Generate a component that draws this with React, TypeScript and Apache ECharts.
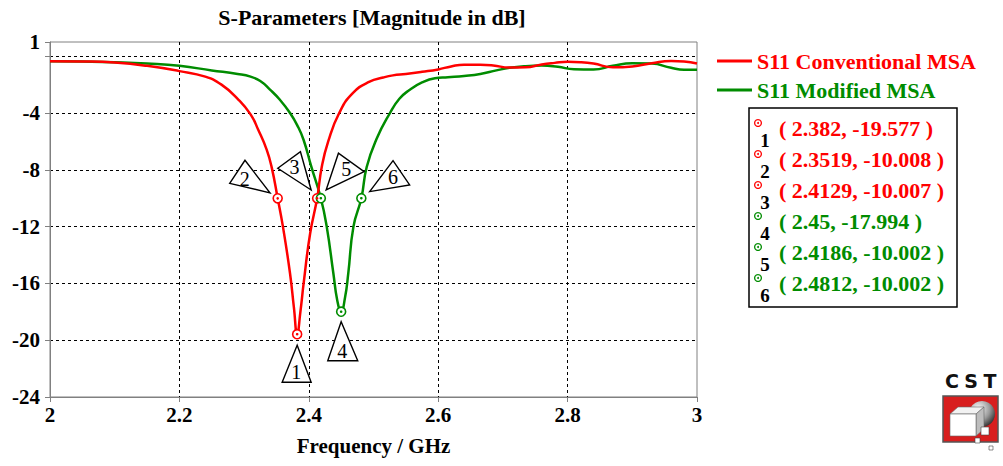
import React, { useEffect, useRef } from 'react';
import * as echarts from 'echarts';

// ---- Data -----------------------------------------------------------------
const RED = '#ff0000';
const GREEN = '#008c00';
const SERIF = '"Liberation Serif", "Times New Roman", serif';

const seriesNames = ['S11 Conventional MSA', 'S11 Modified MSA'];

// S11 of the conventional patch (frequency in GHz, magnitude in dB)
const redFreq = [
  2.0, 2.05, 2.1, 2.15, 2.2, 2.24, 2.265, 2.29, 2.31, 2.322, 2.335, 2.343, 2.3519, 2.36, 2.371,
  2.377, 2.382, 2.387, 2.392, 2.402, 2.4129, 2.42, 2.43, 2.447, 2.468, 2.494, 2.515, 2.53, 2.55,
  2.575, 2.6, 2.62, 2.64, 2.665, 2.685, 2.71, 2.735, 2.76, 2.78, 2.8, 2.82, 2.84, 2.87, 2.9, 2.93,
  2.96, 2.98, 3.0,
];
const redDb = [
  -0.35, -0.37, -0.45, -0.68, -1.05, -1.44, -2.0, -3.0, -4.1, -5.2, -6.6, -7.9, -10.008, -12.0, -15.3,
  -17.7, -19.577, -18.0, -16.0, -12.5, -10.007, -7.8, -6.0, -4.0, -2.6, -1.79, -1.5, -1.35, -1.25,
  -1.1, -0.93, -0.72, -0.6, -0.6, -0.65, -0.8, -0.78, -0.58, -0.47, -0.39, -0.42, -0.52, -0.78, -0.72,
  -0.5, -0.34, -0.38, -0.52,
];

// S11 of the modified patch
const greenFreq = [
  2.0, 2.05, 2.1, 2.15, 2.2, 2.25, 2.29, 2.31, 2.325, 2.34, 2.355, 2.371, 2.382, 2.392, 2.404,
  2.4186, 2.4277, 2.438, 2.444, 2.45, 2.456, 2.461, 2.469, 2.4812, 2.4895, 2.505, 2.5255, 2.54,
  2.555, 2.575, 2.595, 2.615, 2.64, 2.665, 2.69, 2.71, 2.735, 2.76, 2.785, 2.81, 2.84, 2.87, 2.9,
  2.93, 2.96, 2.98, 3.0,
];
const greenDb = [
  -0.35, -0.38, -0.43, -0.52, -0.68, -1.0, -1.25, -1.44, -1.75, -2.35, -3.05, -4.0, -4.85, -5.9, -7.8,
  -10.002, -12.0, -15.3, -17.2, -17.994, -17.0, -15.3, -12.0, -10.002, -7.8, -5.8, -4.0, -3.0,
  -2.4, -1.85, -1.55, -1.48, -1.39, -1.25, -1.0, -0.82, -0.7, -0.66, -0.75, -0.92, -0.94, -0.68, -0.5,
  -0.52, -0.82, -0.95, -0.95,
];

// Curve markers
const markerIds = ['1', '2', '3', '4', '5', '6'];
const markerFreq = [2.382, 2.3519, 2.4129, 2.45, 2.4186, 2.4812];
const markerDb = [-19.577, -10.008, -10.007, -17.994, -10.002, -10.002];
const markerCurve = [0, 0, 0, 1, 1, 1];

// ---- Layout of the marker call-outs (offsets from the marker, in px) ------
const calloutShapes = [
  { pts: [[0, 11], [-15, 48], [14, 48]], label: [-1, 38] },
  { pts: [[-48, -15], [-32.7, -38], [-7.7, -5.5]], label: [-33, -19] },
  { pts: [[-39.4, -30], [-16.7, -46.6], [-6, -8.3]], label: [-22.7, -31] },
  { pts: [[0, 10], [-13.4, 49], [16.6, 49]], label: [1, 39] },
  { pts: [[5.3, -8.3], [17.6, -45], [43.3, -26.6]], label: [25.3, -29] },
  { pts: [[8.3, -6.6], [31.7, -37.6], [48.3, -13.3]], label: [31.7, -21] },
];

const curveColors = [RED, GREEN];

function pairs(xs: number[], ys: number[]) {
  return xs.map((x, i) => [x, ys[i]]);
}

function textEl(
  x: number,
  y: number,
  text: string,
  size: number,
  color: string,
  bold: boolean,
  align = 'center',
  family = SERIF,
) {
  return {
    type: 'text',
    x,
    y,
    z: 20,
    silent: true,
    style: {
      text,
      fill: color,
      fontFamily: family,
      fontSize: size,
      fontWeight: bold ? 'bold' : 'normal',
      align,
      verticalAlign: 'middle',
      textAlign: align,
      textVerticalAlign: 'middle',
    },
  };
}

function cstLogo() {
  const els: any[] = [];
  const letters = ['C', 'S', 'T'];
  const lx = [952, 971, 990];
  letters.forEach((l, i) => {
    els.push(textEl(lx[i], 381, l, 19, '#111', true, 'center', '"DejaVu Sans", Arial, sans-serif'));
  });
  els.push({
    type: 'rect',
    shape: { x: 943, y: 396, width: 55, height: 46 },
    style: { fill: '#d81e1e', stroke: '#555', lineWidth: 1.5 },
  });
  els.push({
    type: 'circle',
    shape: { cx: 982, cy: 414, r: 13 },
    style: {
      fill: new echarts.graphic.RadialGradient(0.35, 0.3, 0.75, [
        { offset: 0, color: '#ffffff' },
        { offset: 0.6, color: '#9a9a9a' },
        { offset: 1, color: '#333333' },
      ]),
    },
  });
  // large cube
  els.push({ type: 'polygon', shape: { points: [[950, 414], [958, 407], [984, 407], [976, 414]] }, style: { fill: '#f2f2f2', stroke: '#666', lineWidth: 0.6 } });
  els.push({ type: 'polygon', shape: { points: [[976, 414], [984, 407], [984, 429], [976, 436]] }, style: { fill: '#bdbdbd', stroke: '#666', lineWidth: 0.6 } });
  els.push({ type: 'rect', shape: { x: 950, y: 414, width: 26, height: 22 }, style: { fill: '#ffffff', stroke: '#666', lineWidth: 0.6 } });
  // small cubes
  els.push({ type: 'rect', shape: { x: 981, y: 427, width: 8, height: 8 }, style: { fill: '#ffffff', stroke: '#444', lineWidth: 0.6 } });
  els.push({ type: 'rect', shape: { x: 975, y: 438, width: 5, height: 5 }, style: { fill: '#ffffff', stroke: '#444', lineWidth: 0.6 } });
  els.push({ type: 'rect', shape: { x: 989, y: 446, width: 4, height: 4 }, style: { fill: '#ffffff', stroke: '#444', lineWidth: 0.6 } });
  return els;
}

export default function App() {
  const ref = useRef<HTMLDivElement>(null);

  useEffect(() => {
    const el = ref.current;
    if (!el) return;
    const chart = echarts.init(el, null, { renderer: 'svg' });

    const axisLabelStyle = {
      color: '#000',
      fontFamily: SERIF,
      fontSize: 21,
      fontWeight: 'bold' as const,
    };
    const dashed = {
      show: true,
      showMinLine: false,
      showMaxLine: false,
      lineStyle: { color: '#000', width: 1, type: [3, 3] },
    };

    const markerSeries: any[] = [];
    [0, 1].forEach((c) => {
      const pts = markerFreq
        .map((f, i) => ({ f, i }))
        .filter((m) => markerCurve[m.i] === c)
        .map((m) => [m.f, markerDb[m.i]]);
      markerSeries.push({
        type: 'scatter',
        data: pts,
        symbol: 'circle',
        symbolSize: 9,
        z: 5,
        silent: true,
        itemStyle: { color: '#ffffff', borderColor: curveColors[c], borderWidth: 1.6, opacity: 1 },
      });
      markerSeries.push({
        type: 'scatter',
        data: pts,
        symbol: 'circle',
        symbolSize: 2.6,
        z: 6,
        silent: true,
        itemStyle: { color: curveColors[c], opacity: 1 },
      });
    });

    chart.setOption({
      animation: false,
      grid: {
        left: 50,
        right: 306,
        top: 42,
        bottom: 69,
        show: true,
        borderColor: '#808080',
        borderWidth: 1,
        backgroundColor: 'transparent',
      },
      legend: {
        orient: 'vertical',
        left: 712,
        top: 45,
        itemWidth: 35,
        itemHeight: 3,
        itemGap: 7,
        selectedMode: false,
        icon: 'rect',
        data: [
          { name: seriesNames[0], icon: 'rect', itemStyle: { color: RED }, textStyle: { color: RED } },
          { name: seriesNames[1], icon: 'rect', itemStyle: { color: GREEN }, textStyle: { color: GREEN } },
        ],
        textStyle: { fontFamily: SERIF, fontSize: 22, fontWeight: 'bold', lineHeight: 22 },
      },
      xAxis: {
        type: 'value',
        min: 2,
        max: 3,
        interval: 0.2,
        name: 'Frequency / GHz',
        nameLocation: 'middle',
        nameGap: 38,
        nameTextStyle: { color: '#000', fontFamily: SERIF, fontSize: 21, fontWeight: 'bold' },
        axisLine: { show: true, onZero: false, lineStyle: { color: '#808080', width: 1 } },
        axisTick: { show: true, length: 5, lineStyle: { color: '#808080' } },
        axisLabel: { ...axisLabelStyle, margin: 7 },
        splitLine: dashed,
      },
      yAxis: {
        type: 'value',
        min: -24,
        max: 1,
        interval: 4,
        axisLine: { show: true, onZero: false, lineStyle: { color: '#808080', width: 1 } },
        axisTick: { show: true, length: 5, lineStyle: { color: '#808080' } },
        axisLabel: {
          ...axisLabelStyle,
          margin: 10,
          formatter: (v: number) => (v === 0 ? '' : String(v)),
        },
        splitLine: dashed,
      },
      series: [
        {
          name: seriesNames[0],
          type: 'line',
          data: pairs(redFreq, redDb),
          symbol: 'none',
          smooth: 0.5,
          lineStyle: { color: RED, width: 2.5 },
          itemStyle: { color: RED },
          z: 3,
        },
        {
          name: seriesNames[1],
          type: 'line',
          data: pairs(greenFreq, greenDb),
          symbol: 'none',
          smooth: 0.5,
          lineStyle: { color: GREEN, width: 2.5 },
          itemStyle: { color: GREEN },
          z: 2,
        },
        ...markerSeries,
      ],
    });

    const graphics: any[] = [];

    // title
    graphics.push(textEl(372, 17, 'S-Parameters [Magnitude in dB]', 22, '#000', true));

    // marker call-out triangles placed next to each marker point
    markerFreq.forEach((f, i) => {
      const p = chart.convertToPixel({ gridIndex: 0 }, [f, markerDb[i]]) as number[];
      const shape = calloutShapes[i];
      graphics.push({
        type: 'polygon',
        z: 15,
        silent: true,
        shape: { points: shape.pts.map(([dx, dy]) => [p[0] + dx, p[1] + dy]) },
        style: { fill: '#ffffff', stroke: '#000', lineWidth: 1.4 },
      });
      graphics.push(textEl(p[0] + shape.label[0], p[1] + shape.label[1], markerIds[i], 20, '#000', false));
    });

    // marker table
    graphics.push({
      type: 'rect',
      z: 12,
      silent: true,
      shape: { x: 749, y: 108, width: 208, height: 199 },
      style: { fill: '#ffffff', stroke: '#000', lineWidth: 1.5 },
    });
    markerFreq.forEach((f, i) => {
      const y = 128 + i * 31;
      const color = curveColors[markerCurve[i]];
      graphics.push({
        type: 'circle',
        z: 20,
        silent: true,
        shape: { cx: 758, cy: y - 5, r: 3.4 },
        style: { fill: '#ffffff', stroke: color, lineWidth: 1.3 },
      });
      graphics.push({
        type: 'circle',
        z: 21,
        silent: true,
        shape: { cx: 758, cy: y - 5, r: 1 },
        style: { fill: color },
      });
      graphics.push(textEl(765, y + 12, markerIds[i], 19, '#000', true));
      graphics.push(textEl(779, y, `( ${f}, ${markerDb[i]} )`, 22, color, true, 'left'));
    });

    graphics.push(...cstLogo());

    chart.setOption({ graphic: graphics });

    return () => {
      chart.dispose();
    };
  }, []);

  return (
    <div
      ref={ref}
      style={{ position: 'fixed', left: 0, top: 0, width: 1003, height: 466, background: '#ffffff' }}
    />
  );
}
